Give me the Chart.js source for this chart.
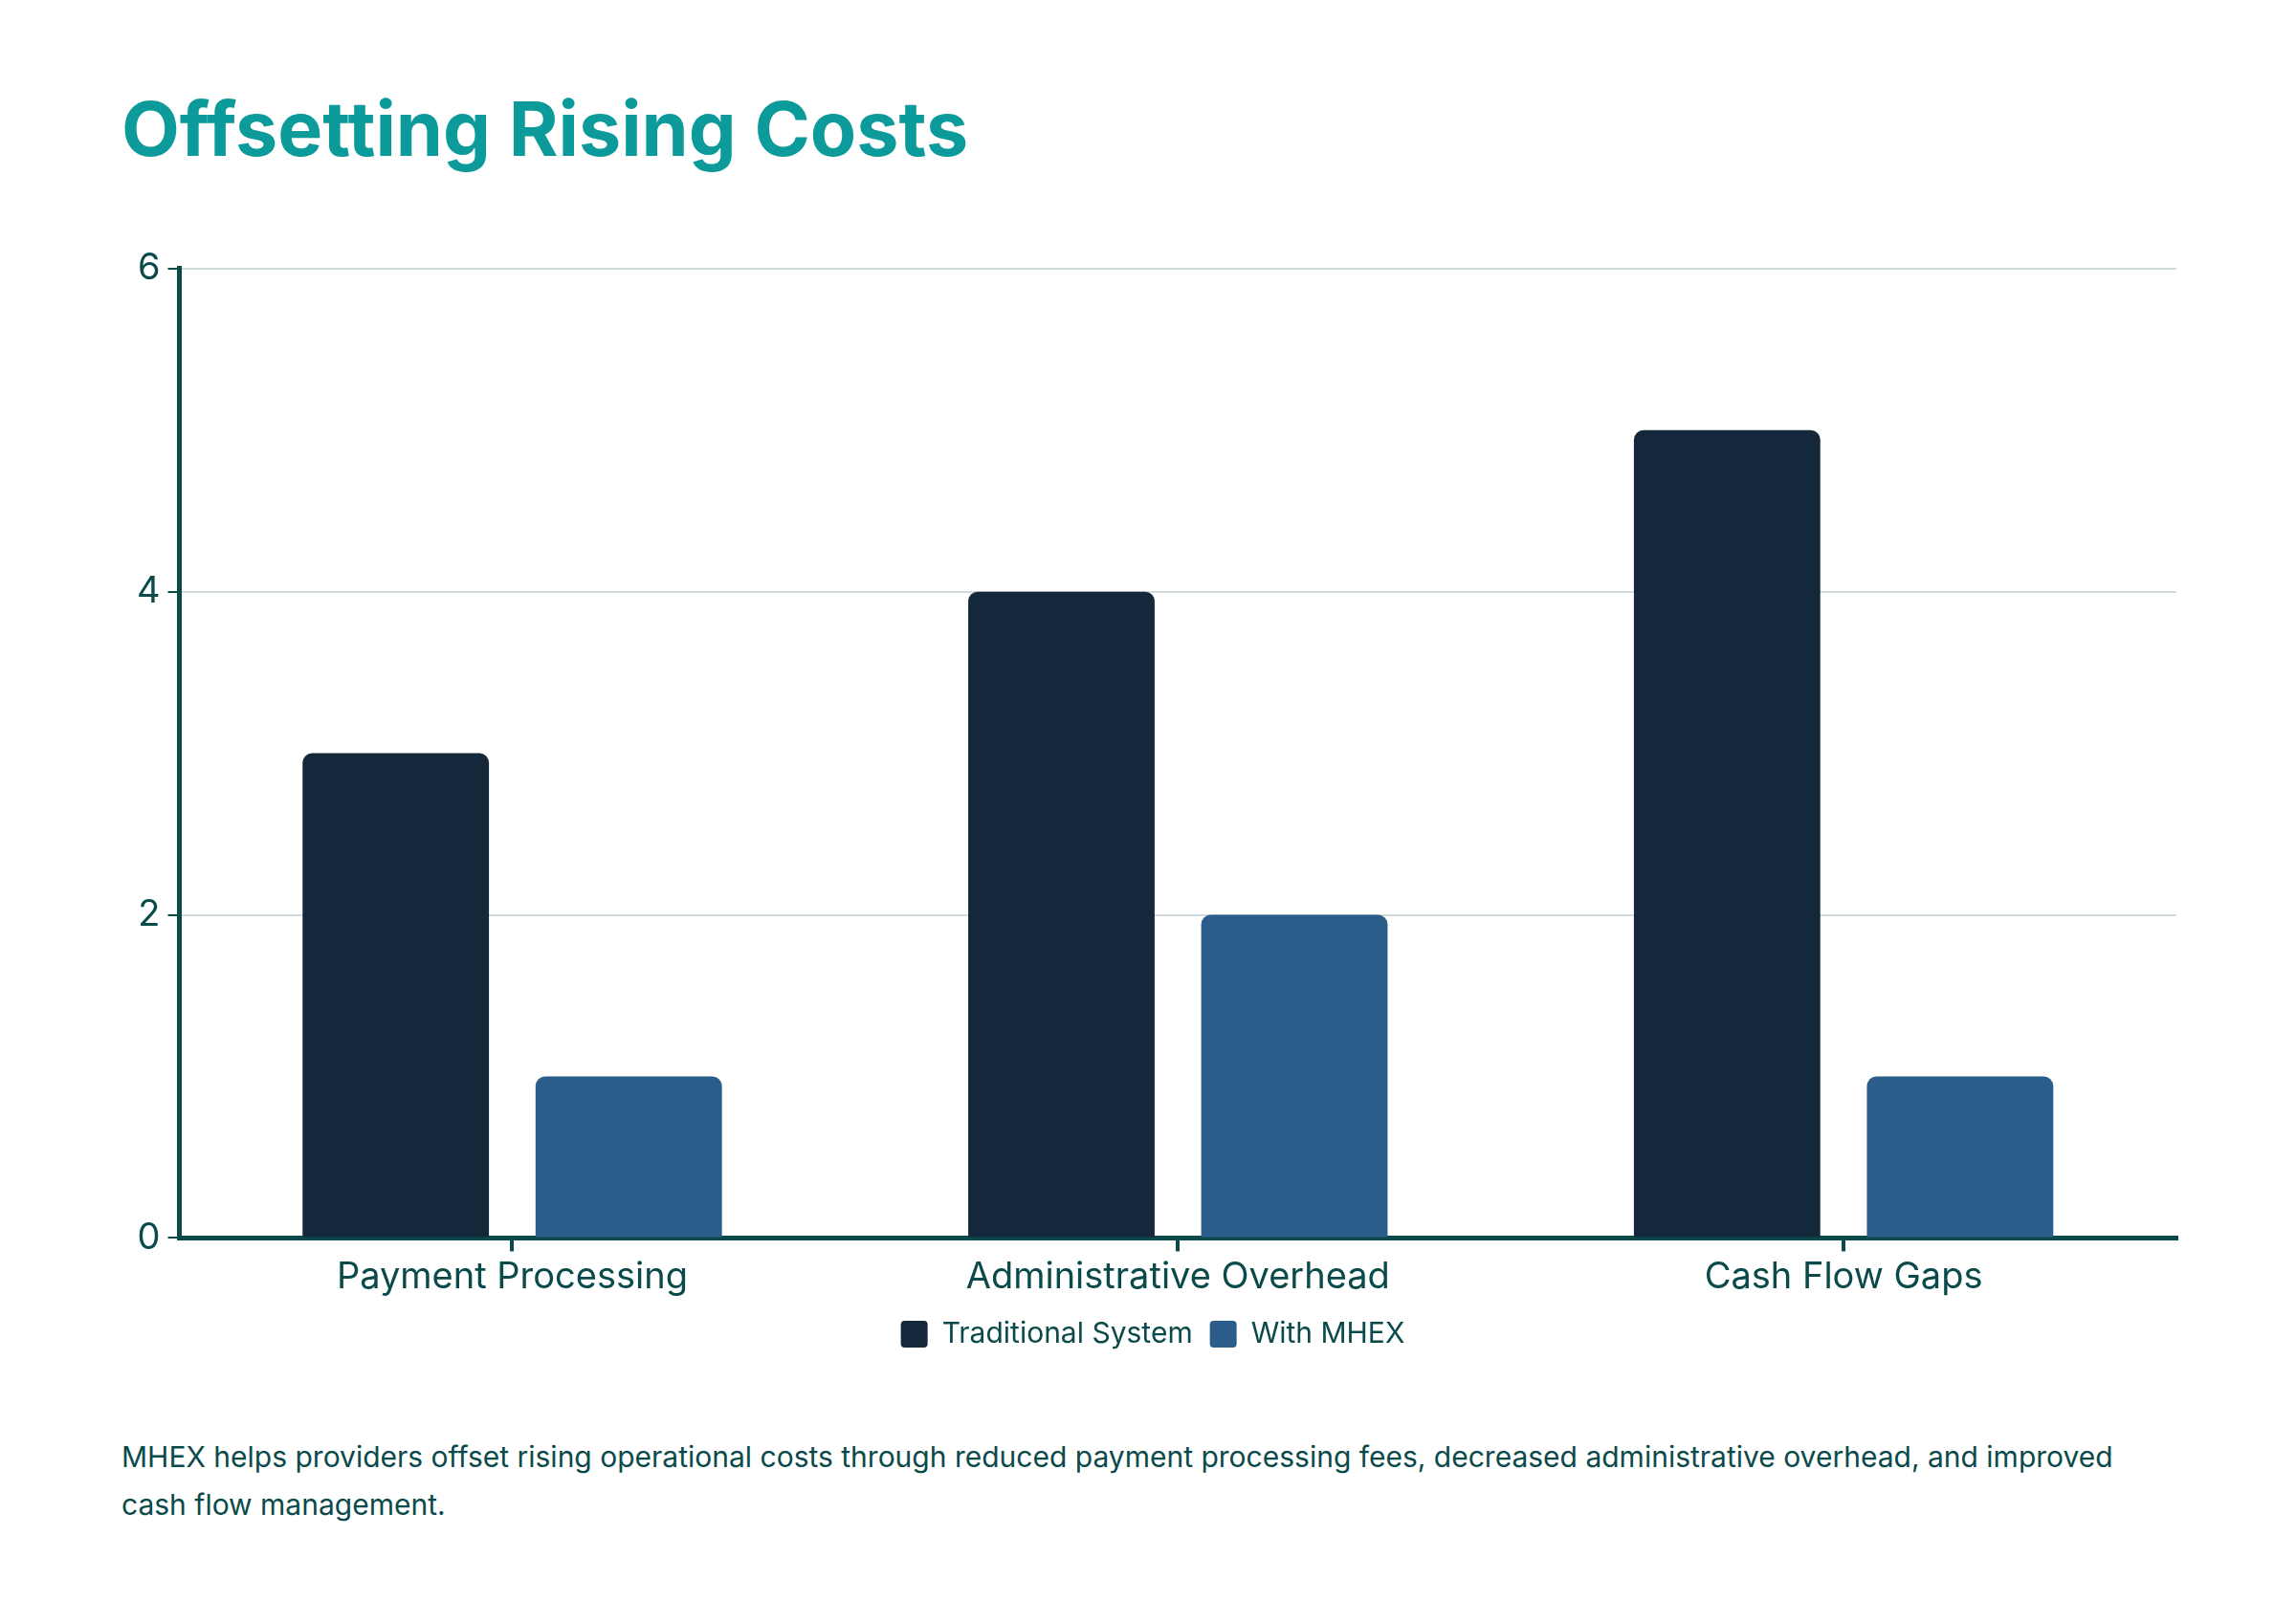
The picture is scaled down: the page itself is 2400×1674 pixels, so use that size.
<!DOCTYPE html>
<html>
<head>
<meta charset="utf-8">
<script src="https://cdn.jsdelivr.net/npm/chart.js@4"></script>
<style>
  body { margin: 0; background: #fff; font-family: Inter, sans-serif; width: 2400px; height: 1674px; position: relative; }
  h1 { position: absolute; left: 127px; top: 86px; margin: 0; font-size: 79px; font-weight: 700; color: #0c9a9a; }
  #wrap { position: absolute; left: 125px; top: 250px; width: 2170px; height: 1170px; }
  p { position: absolute; left: 127px; top: 1498px; width: 2090px; margin: 0; font-size: 30px; line-height: 50px; color: #0b4a4a; }
</style>
</head>
<body>
<h1>Offsetting Rising Costs</h1>
<div id="wrap"><canvas id="chart"></canvas></div>
<p>MHEX helps providers offset rising operational costs through reduced payment processing fees, decreased administrative overhead, and improved cash flow management.</p>
<script>
const categories = ['Payment Processing', 'Administrative Overhead', 'Cash Flow Gaps'];
const traditional = [3, 4, 5];
const withMhex = [1, 2, 1];
const seriesNames = ['Traditional System', 'With MHEX'];

const axisColor = '#0b4a4a';

new Chart(document.getElementById('chart'), {
  type: 'bar',
  data: {
    labels: categories,
    datasets: [
      { label: seriesNames[0], data: traditional, backgroundColor: '#14273b', borderRadius: 10 },
      { label: seriesNames[1], data: withMhex, backgroundColor: '#2b5d8a', borderRadius: 10 }
    ]
  },
  options: {
    responsive: true,
    maintainAspectRatio: false,
    animation: false,
    datasets: { bar: { categoryPercentage: 0.7, barPercentage: 0.8 } },
    layout: { padding: { left: 10, right: 20, top: 10 } },
    scales: {
      x: {
        grid: { drawOnChartArea: false, offset: false, color: axisColor, tickLength: 14, lineWidth: 4 },
        border: { color: axisColor, width: 5 },
        ticks: { color: axisColor, font: { family: 'Inter', size: 38 }, padding: 4 }
      },
      y: {
        min: 0, max: 6,
        grid: { color: '#d0dcdc', lineWidth: 2, tickColor: axisColor, tickLength: 12 },
        border: { color: axisColor, width: 5 },
        ticks: { stepSize: 2, color: axisColor, font: { family: 'Inter', size: 38 }, padding: 8 }
      }
    },
    plugins: {
      legend: {
        position: 'bottom',
        labels: { color: axisColor, font: { family: 'Inter', size: 30 }, boxWidth: 28, boxHeight: 28, useBorderRadius: true, borderRadius: 4, padding: 18 }
      }
    }
  }
});
</script>
</body>
</html>
